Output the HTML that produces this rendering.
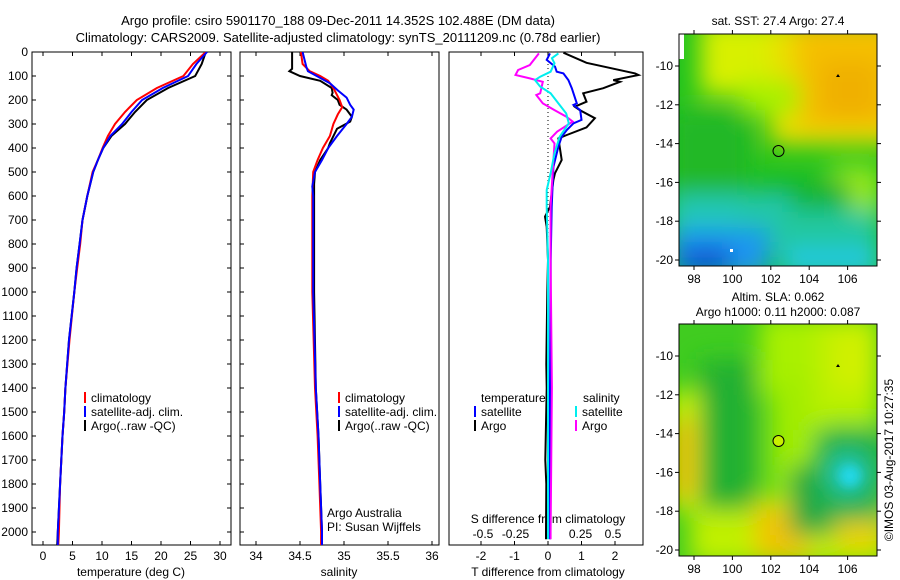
<!DOCTYPE html>
<html><head><meta charset="utf-8"><style>
body{margin:0;background:#fff;}
svg{display:block;font-family:"Liberation Sans",sans-serif;}
</style></head><body>
<svg id="fig" width="900" height="580" viewBox="0 0 900 580">
<defs>
<filter id="blur8" x="-50%" y="-50%" width="200%" height="200%"><feGaussianBlur stdDeviation="12"/></filter>
<filter id="blur5" x="-50%" y="-50%" width="200%" height="200%"><feGaussianBlur stdDeviation="5"/></filter>
<clipPath id="clipTop"><rect x="679" y="34" width="198" height="232"/></clipPath>
<clipPath id="clipBot"><rect x="679" y="324" width="198" height="232"/></clipPath>
<clipPath id="c1"><rect x="32" y="52" width="199" height="493"/></clipPath>
<clipPath id="c2"><rect x="240" y="52" width="199" height="493"/></clipPath>
<clipPath id="c3"><rect x="449" y="52" width="194" height="493"/></clipPath>
</defs>
<text x="338" y="25" font-size="13" text-anchor="middle">Argo profile: csiro 5901170_188 09-Dec-2011 14.352S 102.488E (DM data)</text>
<text x="338" y="42" font-size="13" text-anchor="middle">Climatology: CARS2009. Satellite-adjusted climatology: synTS_20111209.nc (0.78d earlier)</text>

<!-- top map -->
<g clip-path="url(#clipTop)">
<rect x="679" y="34" width="198" height="232" fill="#22c41e"/>
<g filter="url(#blur8)">
<rect x="700" y="20" width="200" height="75" fill="#d8f000"/>
<rect x="770" y="20" width="130" height="125" fill="#e8e000"/>
<rect x="795" y="20" width="100" height="110" fill="#f5c000"/>
<rect x="820" y="60" width="60" height="60" fill="#f0b000"/>
<rect x="740" y="80" width="60" height="35" fill="#a8f000"/>
<rect x="830" y="165" width="50" height="70" fill="#98e81a"/>
<rect x="670" y="110" width="80" height="90" fill="#20b828"/>
<rect x="760" y="180" width="90" height="60" fill="#18b432"/>
<rect x="670" y="195" width="120" height="45" fill="#20c8b8"/>
<rect x="740" y="210" width="140" height="40" fill="#20c8a0"/>
<rect x="670" y="228" width="100" height="50" fill="#1a96f0"/>
<rect x="780" y="248" width="100" height="30" fill="#20c8e0"/>
<rect x="680" y="248" width="50" height="25" fill="#1050d0"/>
</g>
<rect x="679" y="34" width="5" height="25" fill="#fff"/>
<rect x="730" y="249" width="3" height="3" fill="#fff"/>
</g>
<rect x="679" y="34" width="198" height="232" fill="none" stroke="#000" stroke-width="1"/>
<circle cx="778.5" cy="151" r="5.5" fill="none" stroke="#000"/>
<path d="M836 77 l2 -3 l2 3z" fill="#000"/>
<text x="778" y="25" font-size="12" text-anchor="middle">sat. SST: 27.4 Argo: 27.4</text>

<!-- bottom map -->
<g clip-path="url(#clipBot)">
<rect x="679" y="324" width="198" height="232" fill="#40cc20"/>
<g filter="url(#blur8)">
<rect x="760" y="315" width="70" height="80" fill="#a8f000"/>
<rect x="770" y="380" width="55" height="110" fill="#a0ec00"/>
<rect x="810" y="315" width="70" height="110" fill="#b8f000"/>
<rect x="830" y="330" width="45" height="60" fill="#d0f000"/>
<rect x="670" y="390" width="35" height="120" fill="#c8f000"/>
<rect x="670" y="420" width="25" height="80" fill="#f0c000"/>
<rect x="690" y="495" width="200" height="70" fill="#c0f000"/>
<rect x="755" y="505" width="55" height="55" fill="#f0c400"/>
<rect x="835" y="510" width="50" height="40" fill="#e8d000"/>
<rect x="700" y="360" width="55" height="150" fill="#22b030"/>
<rect x="790" y="465" width="45" height="70" fill="#20a840"/>
<rect x="815" y="430" width="70" height="90" fill="#20b050"/>
</g>
<circle cx="848" cy="474" r="22" fill="#20c8c0" filter="url(#blur8)"/>
<circle cx="850" cy="476" r="10" fill="#20d8e8" filter="url(#blur5)"/>
</g>
<rect x="679" y="324" width="198" height="232" fill="none" stroke="#000"/>
<circle cx="778.5" cy="441" r="5.5" fill="#c8f000" stroke="#000"/>
<path d="M836 367 l2 -3 l2 3z" fill="#000"/>
<text x="778" y="301" font-size="12" text-anchor="middle">Altim. SLA: 0.062</text>
<text x="778" y="316" font-size="12" text-anchor="middle">Argo h1000: 0.11 h2000: 0.087</text>
<text transform="translate(893,460) rotate(-90)" font-size="12" text-anchor="middle">©IMOS 03-Aug-2017 10:27:35</text>
<g id="mapaxes"></g>
<g id="panels"></g>
</svg>
<script>
// ---- data ----
const depthTicks=[0,100,200,300,400,500,600,700,800,900,1000,1100,1200,1300,1400,1500,1600,1700,1800,1900,2000];
const tempTicks=[0,5,10,15,20,25,30];
const salTicks=[34,34.5,35,35.5,36];
const tdiffTicks=[-2,-1,0,1,2];
const sdiffTicks=[-0.5,-0.25,0,0.25,0.5];
const sdiffTickLabels=["-0.5","-0.25","0","0.25","0.5"];
const lonTicks=[98,100,102,104,106];
const latTicks=[-10,-12,-14,-16,-18,-20];

const tDepth=[0,50,100,150,200,250,300,350,400,450,500,600,700,800,900,1000,1200,1400,1500,1600,1800,2000,2054];
const tempArgo=[27.6,26.9,25.8,21.2,17.6,15.6,13.9,11.6,10.2,9.3,8.5,7.5,6.7,6.2,5.7,5.3,4.4,3.8,3.6,3.3,2.9,2.5,2.4];
const tempClim=[27.6,25.4,23.8,19.3,15.9,13.9,12.2,11.0,10.1,9.3,8.4,7.5,6.7,6.3,5.8,5.3,4.5,3.8,3.6,3.3,2.9,2.7,2.6];
const tempSat=[27.8,26.0,24.6,20.3,16.8,15.0,13.4,11.4,10.2,9.3,8.5,7.5,6.7,6.2,5.7,5.3,4.4,3.8,3.6,3.3,2.9,2.5,2.5];

const sDepthArgo=[0,70,80,100,120,150,170,180,200,220,240,270,290,320,380,400,450,500,550,1000,1400,1600,1800,2000,2054];
const salArgo=[34.41,34.41,34.38,34.50,34.73,34.86,34.87,34.86,34.93,34.95,35.03,35.09,35.07,34.92,34.84,34.82,34.73,34.67,34.66,34.66,34.68,34.71,34.73,34.75,34.75];
const sDepthClim=[0,50,80,100,120,150,200,230,260,300,350,400,450,500,600,1000,1400,1600,1800,2000,2054];
const salClim=[34.51,34.53,34.61,34.73,34.82,34.88,34.95,34.98,34.93,34.88,34.84,34.76,34.70,34.65,34.64,34.64,34.67,34.70,34.72,34.74,34.74];
const sDepthSat=[0,30,60,80,100,130,160,190,220,240,270,300,350,400,450,500,560,600,1000,1400,1600,1800,2000,2054];
const salSat=[34.53,34.55,34.57,34.59,34.69,34.84,34.93,35.03,35.07,35.11,35.09,35.03,34.92,34.82,34.75,34.67,34.64,34.65,34.65,34.68,34.71,34.73,34.75,34.75];

const dDepthTA=[3,45,89,96,117,124,151,172,207,228,242,276,314,346,360,450,505,533,645,686,728,867,1000,1300,1400,1700,1800,2000,2030];
const tDiffArgo=[0.46,1.15,2.6,2.7,1.95,2.15,1.65,1.05,1.15,0.8,0.95,1.4,1.15,0.56,0.31,0.41,0.21,0.16,0.06,-0.09,-0.04,0.0,-0.02,-0.05,-0.04,-0.08,-0.05,-0.06,-0.06];
const dDepthTS=[6,33,61,82,89,117,151,214,221,242,283,297,325,353,394,478,645,867,1400,2000,2030];
const tDiffSat=[0.06,-0.04,0.21,0.26,0.46,0.61,0.71,0.86,0.76,0.96,1.0,0.76,0.56,0.41,0.31,0.16,0.11,0.08,0.06,0.06,0.06];
const dDepthSA=[6,54,75,96,110,124,172,179,214,242,269,290,332,360,381,464,645,867,1400,2000,2030];
const sDiffArgo=[-0.07,-0.14,-0.23,-0.25,-0.14,-0.04,-0.06,-0.09,-0.04,0.05,0.14,0.19,0.07,0.02,0.05,0.04,0.02,0.02,0.03,0.02,0.02];
const dDepthSS=[6,26,47,82,103,117,144,172,214,256,297,353,422,506,575,645,867,1400,2000,2030];
const sDiffSat=[0.08,0.03,0.05,0.02,-0.06,-0.1,-0.06,0.02,0.08,0.14,0.16,0.09,0.05,0.02,-0.01,-0.01,0.0,0.0,0.0,0.0];

// ---- scales ----
const y=d=>52+d*0.24;
const xT=t=>43+t*5.9;
const xS=s=>256+(s-34)*88;
const xTD=v=>548+v*33.5;
const xSD=v=>548+v*130;
const mx=lon=>694+(lon-98)*19.2;
const myTop=lat=>66+(-10-lat)*19.4;
const myBot=lat=>356+(-10-lat)*19.4;

const NS="http://www.w3.org/2000/svg";
const root=document.getElementById('panels');
function mk(tag,parent){const e=document.createElementNS(NS,tag);parent.appendChild(e);return e;}
function txt(parent,x,yy,s,anchor,size){const t=mk('text',parent);t.setAttribute('x',x);t.setAttribute('y',yy);t.setAttribute('font-size',size||12);t.setAttribute('text-anchor',anchor||'middle');t.textContent=s;return t;}
function line(parent,x1,y1,x2,y2,col,w){const l=mk('line',parent);l.setAttribute('x1',x1);l.setAttribute('y1',y1);l.setAttribute('x2',x2);l.setAttribute('y2',y2);l.setAttribute('stroke',col||'#000');l.setAttribute('stroke-width',w||1);return l;}
function series(parent,xs,ds,fx,col){const p=mk('polyline',parent);p.setAttribute('points',xs.map((v,i)=>fx(v).toFixed(1)+','+y(ds[i]).toFixed(1)).join(' '));p.setAttribute('fill','none');p.setAttribute('stroke',col);p.setAttribute('stroke-width',2);return p;}

const panels=[{x:32,w:199,clip:'c1',name:'temperature-panel'},{x:240,w:199,clip:'c2',name:'salinity-panel'},{x:449,w:194,clip:'c3',name:'difference-panel'}];
const pg=[];
panels.forEach(p=>{
  const g=mk('g',root);
  
  
  const r=mk('rect',g);r.setAttribute('x',p.x);r.setAttribute('y',52);r.setAttribute('width',p.w);r.setAttribute('height',493);r.setAttribute('fill','none');r.setAttribute('stroke','#000');
  
  
  pg.push(g);
});
depthTicks.forEach(d=>{
  line(pg[0],32,y(d),36,y(d));line(pg[0],231,y(d),227,y(d));
  line(pg[1],240,y(d),244,y(d));
  const t=txt(pg[0],28,y(d)+4,String(d),'end');
  
  
});
tempTicks.forEach(v=>{line(pg[0],xT(v),52,xT(v),56);line(pg[0],xT(v),545,xT(v),541);
  const t=txt(pg[0],xT(v),560,String(v));});
salTicks.forEach(v=>{line(pg[1],xS(v),52,xS(v),56);line(pg[1],xS(v),545,xS(v),541);
  const t=txt(pg[1],xS(v),560,String(v));});
tdiffTicks.forEach(v=>{line(pg[2],xTD(v),52,xTD(v),56);line(pg[2],xTD(v),545,xTD(v),541);
  const t=txt(pg[2],xTD(v),560,String(v));});
sdiffTicks.forEach((v,i)=>{const t=txt(pg[2],xSD(v),538,sdiffTickLabels[i]);});
[["temperature (deg C)",131,0],["salinity",339,1],["T difference from climatology",548,2]].forEach(a=>{
  const t=txt(pg[a[2]],a[1],576,a[0]);});
const sdt=txt(pg[2],548,523,"S difference from climatology");


const z=line(pg[2],548,52,548,400,'#000',1);z.setAttribute('stroke-dasharray','1,3');



const g1=mk('g',pg[0]);g1.setAttribute('clip-path','url(#c1)');
let s;
s=series(g1,tempArgo,tDepth,xT,'#000');
s=series(g1,tempClim,tDepth,xT,'#f00');
s=series(g1,tempSat,tDepth,xT,'#00f');
const g2=mk('g',pg[1]);g2.setAttribute('clip-path','url(#c2)');
s=series(g2,salArgo,sDepthArgo,xS,'#000');
s=series(g2,salClim,sDepthClim,xS,'#f00');
s=series(g2,salSat,sDepthSat,xS,'#00f');
const g3=mk('g',pg[2]);g3.setAttribute('clip-path','url(#c3)');
s=series(g3,tDiffArgo,dDepthTA,xTD,'#000');
s=series(g3,tDiffSat,dDepthTS,xTD,'#00f');
s=series(g3,sDiffArgo,dDepthSA,xSD,'#f0f');
s=series(g3,sDiffSat,dDepthSS,xSD,'#0ee');

function leg(parent,x,yy,col,label){
  const l=line(parent,x,yy-6,x,yy+5,col,2);
  
  
  const t=txt(parent,x+6,yy+4,label,'start');
  
  
}
[[pg[0],85],[pg[1],339]].forEach(a=>{
  leg(a[0],a[1],398,'#f00','climatology');
  leg(a[0],a[1],412,'#00f','satellite-adj. clim.');
  leg(a[0],a[1],426,'#000','Argo(..raw -QC)');
});
let t;
t=txt(pg[2],481,402,'temperature','start');
t=txt(pg[2],583,402,'salinity','start');
leg(pg[2],475,412,'#00f','satellite');
leg(pg[2],475,426,'#000','Argo');
leg(pg[2],576,412,'#0ee','satellite');
leg(pg[2],576,426,'#f0f','Argo');
t=txt(pg[1],327,517,'Argo Australia','start');
t=txt(pg[1],327,531,'PI: Susan Wijffels','start');

const ma=document.getElementById('mapaxes');
[[34,266,myTop],[324,556,myBot]].forEach(m=>{
  lonTicks.forEach(v=>{line(ma,mx(v),m[0],mx(v),m[0]-4);line(ma,mx(v),m[1],mx(v),m[1]+4);
    const tt=txt(ma,mx(v),m[1]+17,String(v));});
  latTicks.forEach(v=>{line(ma,679,m[2](v),675,m[2](v));line(ma,877,m[2](v),881,m[2](v));
    const tt=txt(ma,673,m[2](v)+4,String(v),'end');});
});
</script>
</body></html>
